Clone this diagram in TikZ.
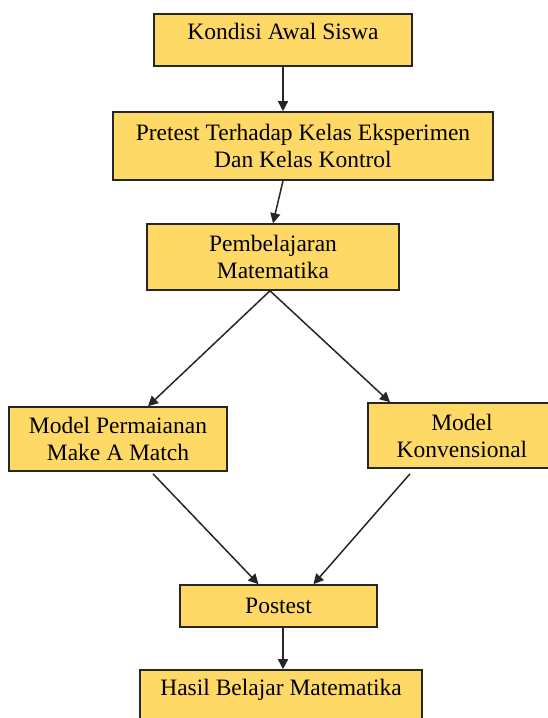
\documentclass[tikz,border=0pt]{standalone}
\usepackage{fontspec}
\setmainfont{Liberation Serif}
\usetikzlibrary{calc,arrows.meta}
\definecolor{boxgold}{RGB}{255,217,102}
\tikzset{
	flowbox/.style={draw=black!85, line width=1.6pt, fill=boxgold, align=center, inner sep=2pt, font=\rmfamily\fontsize{23.5}{27}\selectfont},
	flowarrow/.style={line width=1.5pt, color=black!85, -{Triangle[length=10pt,width=10pt]}}
}

\begin{document}
\begin{tikzpicture}[x=1pt, y=-1pt]
		%%%%% START %%%%%
		\useasboundingbox (0, 0) rectangle (548, 718);
		
		\node[flowbox, minimum width=258pt, minimum height=52pt, text depth=18pt] (kondisi) at (283, 40) {Kondisi Awal Siswa};
		\node[flowbox, minimum width=380pt, minimum height=68pt] (pretest) at (303, 146) {Pretest Terhadap Kelas Eksperimen\\Dan Kelas Kontrol};
		\node[flowbox, minimum width=252pt, minimum height=66pt] (pembelajaran) at (273, 257) {Pembelajaran\\Matematika};
		
		\node[flowbox, minimum width=218pt, minimum height=64pt] (makematch) at (118, 439) {Model Permaianan\\Make A Match};
		\node[flowbox, minimum width=188pt, minimum height=65pt] (konvensional) at (462, 435.5) {Model\\Konvensional};
		
		\node[flowbox, minimum width=197pt, minimum height=42pt] (postest) at (278.5, 606) {Postest};
		\node[flowbox, minimum width=282pt, minimum height=52pt, text depth=18pt] (hasil) at (281, 696) {Hasil Belajar Matematika};
		
		\draw[flowarrow] (kondisi.south) -- (kondisi.south |- pretest.north);
		\draw[flowarrow] (pretest.south -| kondisi.south) -- (pembelajaran.north);
		
		\draw[flowarrow] ($(pembelajaran.south)+(-3, 0)$) -- ($(makematch.north)+(30, 0)$);
		\draw[flowarrow] ($(pembelajaran.south)+(-3, 0)$) -- ($(konvensional.north)+(-72, 0)$);
		
		\draw[flowarrow] ($(makematch.south)+(35, 2)$) -- ($(postest.north)+(-20, 0)$);
		\draw[flowarrow] ($(konvensional.south)+(-52, 5)$) -- ($(postest.north)+(35, 0)$);
		
		\draw[flowarrow] ($(postest.south)+(4.5, 0)$) -- ($(hasil.north)+(2, 0)$);
		%%%%% END %%%%%
\end{tikzpicture}
\end{document}
